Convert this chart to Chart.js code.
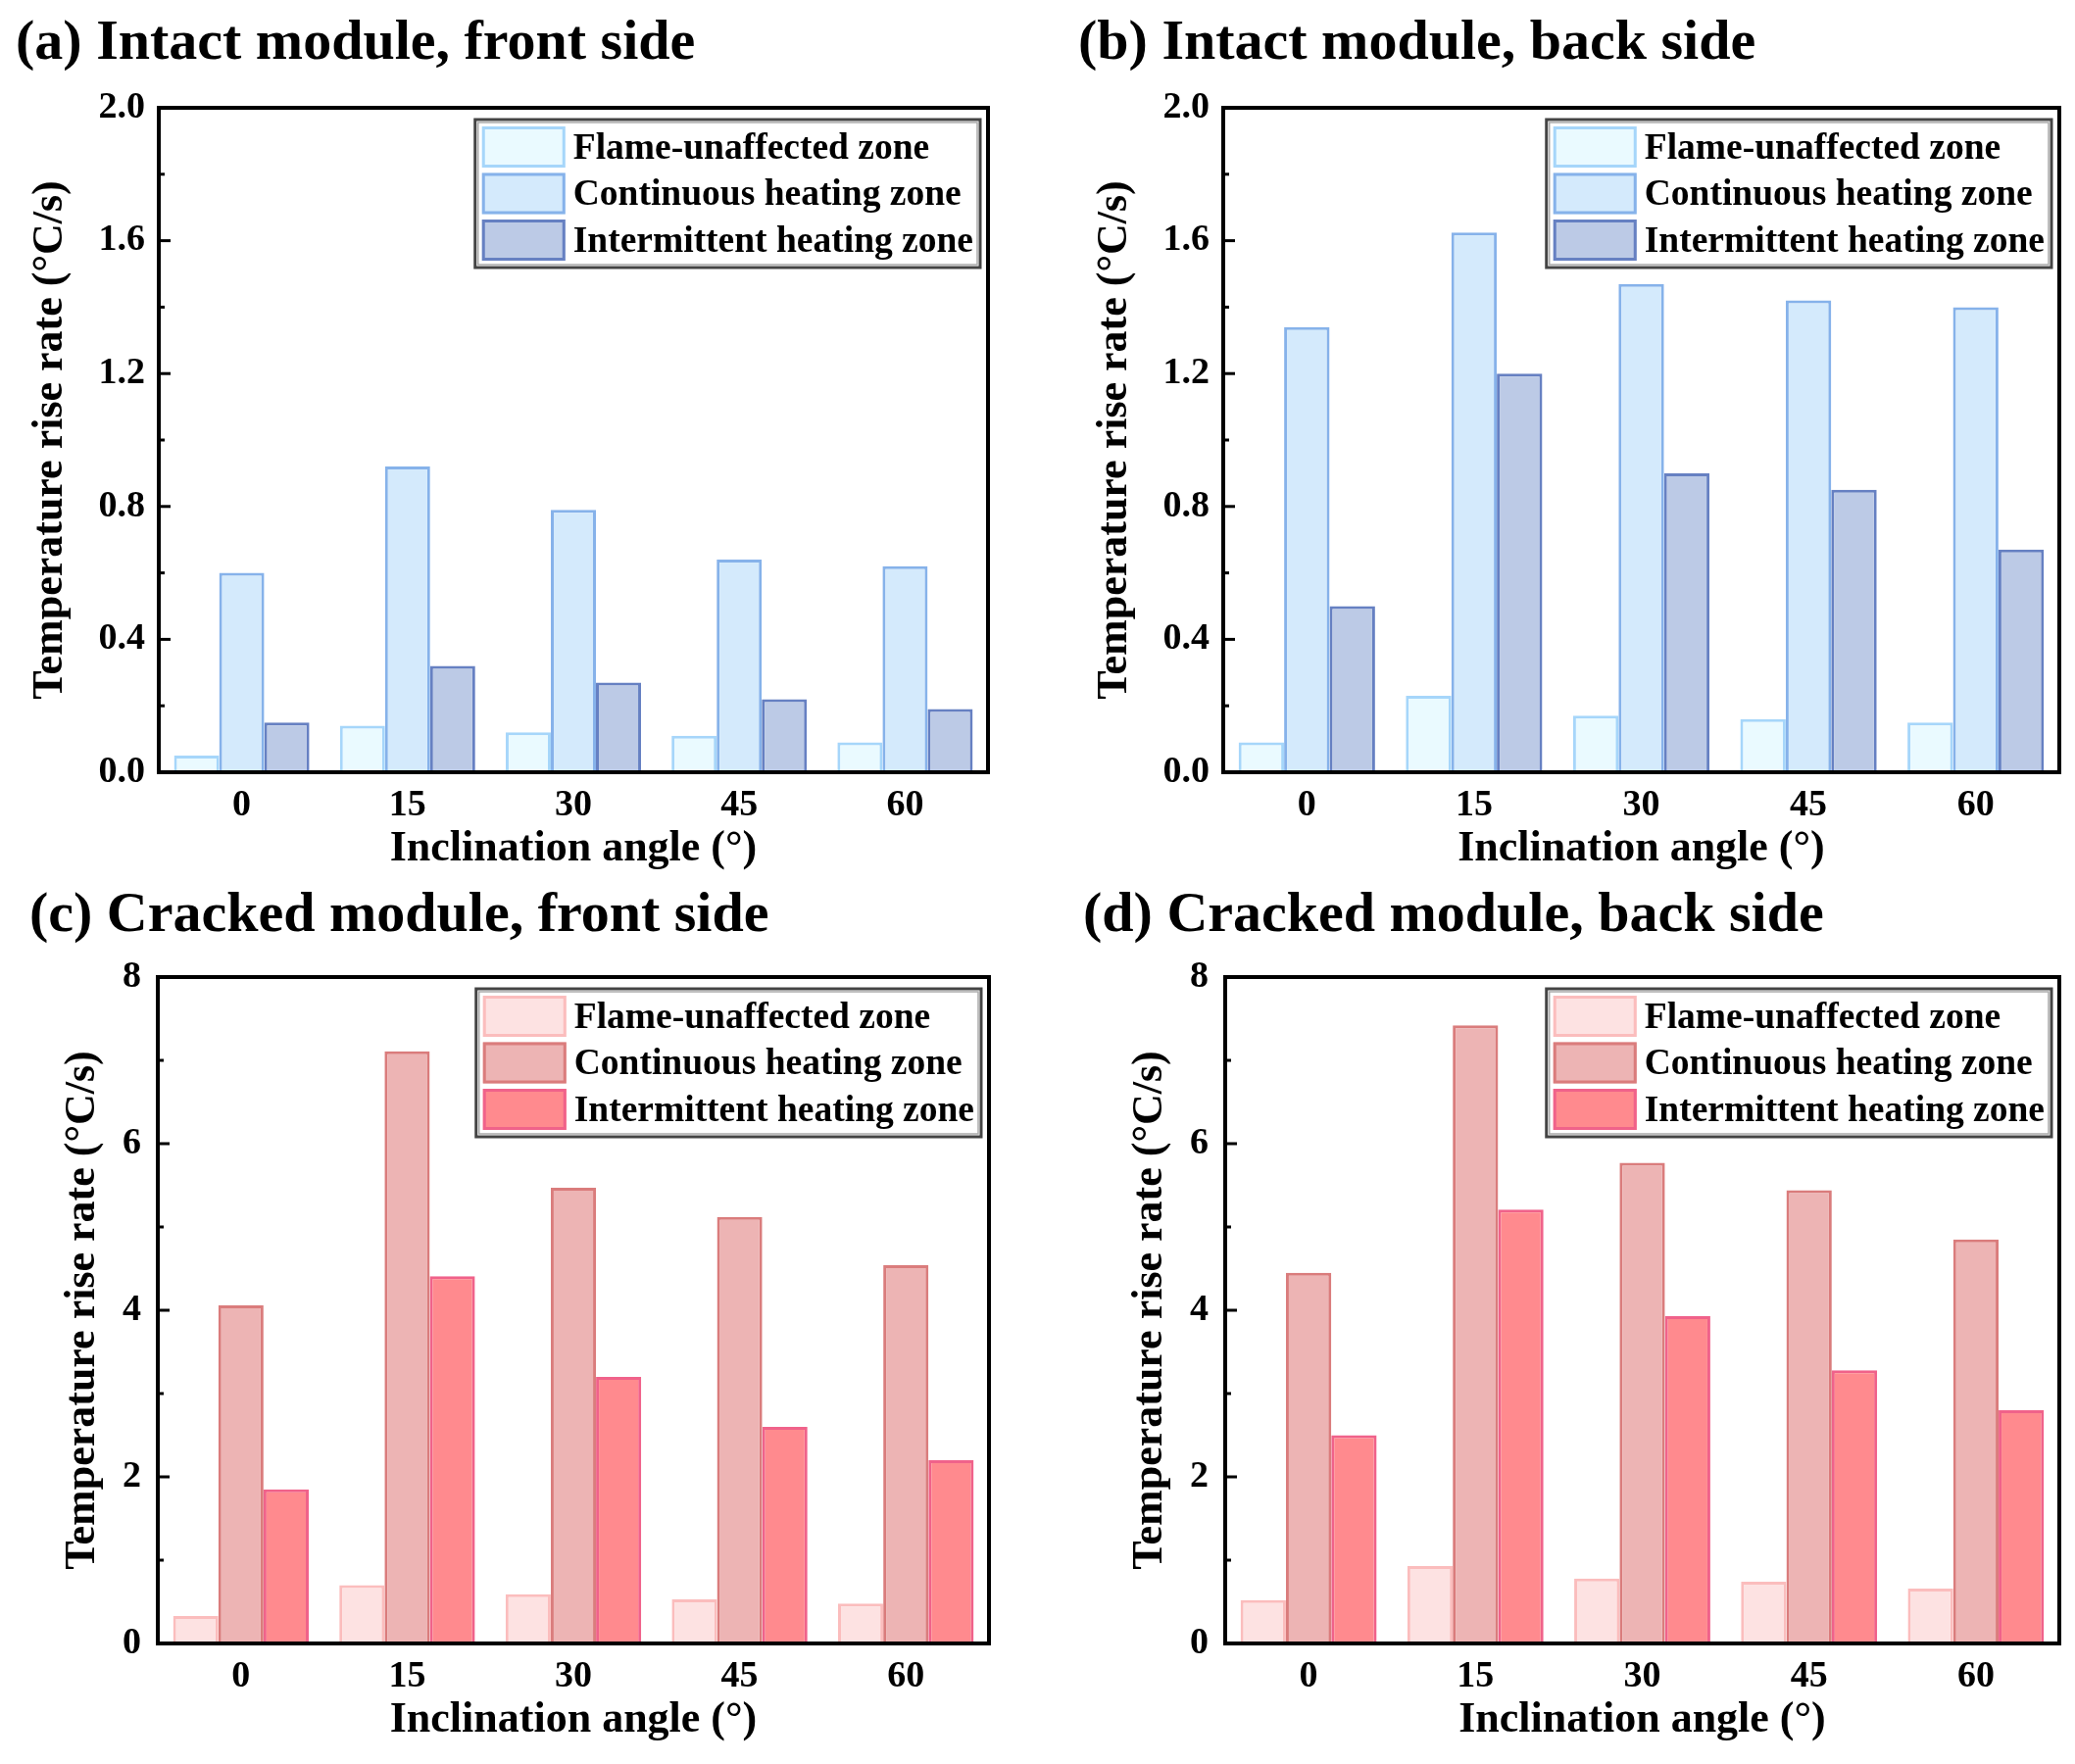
<!DOCTYPE html>
<html>
<head>
<meta charset="utf-8">
<script src="https://cdn.jsdelivr.net/npm/chart.js@4.4.1/dist/chart.umd.min.js"></script>
<style>
  body { margin: 0; background: #fff; width: 2117px; height: 1800px; position: relative; overflow: hidden; }
  canvas { position: absolute; }
  .ttl { position: absolute; font: bold 58px "Liberation Serif", "Times New Roman", serif; line-height: 58px; color: #000; white-space: nowrap; }
</style>
</head>
<body>
<div class="ttl" style="left:16px;top:12px">(a) Intact module, front side</div>
<div class="ttl" style="left:1100px;top:12px">(b) Intact module, back side</div>
<div class="ttl" style="left:30px;top:902px">(c) Cracked module, front side</div>
<div class="ttl" style="left:1105px;top:902px">(d) Cracked module, back side</div>
<canvas id="pa"></canvas>
<canvas id="pb"></canvas>
<canvas id="pc"></canvas>
<canvas id="pd"></canvas>
<script>
var angles = ["0", "15", "30", "45", "60"];
var zones = ["Flame-unaffected zone", "Continuous heating zone", "Intermittent heating zone"];

// intact module (°C/s)
var intactFrontFlame = [0.05, 0.14, 0.12, 0.11, 0.09];
var intactFrontCont  = [0.60, 0.92, 0.79, 0.64, 0.62];
var intactFrontInter = [0.15, 0.32, 0.27, 0.22, 0.19];
var intactBackFlame  = [0.09, 0.23, 0.17, 0.16, 0.15];
var intactBackCont   = [1.34, 1.625, 1.47, 1.42, 1.40];
var intactBackInter  = [0.50, 1.20, 0.90, 0.85, 0.67];

// cracked module (°C/s)
var crackFrontFlame = [0.33, 0.70, 0.59, 0.53, 0.48];
var crackFrontCont  = [4.06, 7.11, 5.47, 5.12, 4.54];
var crackFrontInter = [1.85, 4.41, 3.20, 2.60, 2.20];
var crackBackFlame  = [0.52, 0.93, 0.78, 0.74, 0.66];
var crackBackCont   = [4.45, 7.42, 5.77, 5.44, 4.85];
var crackBackInter  = [2.50, 5.21, 3.93, 3.28, 2.80];

var blueFill   = ["#EAFAFF", "#D4EAFC", "#BCCAE6"];
var blueBorder = ["#A6D6FA", "#86B2EA", "#6680C2"];
var redFill    = ["#FDE2E2", "#EDB4B4", "#FF8A8E"];
var redBorder  = ["#FBBDBD", "#DA7C7C", "#F0628A"];

var FONT = '"Liberation Serif", "Times New Roman", serif';

// frame, inward ticks and boxed legend
var framePlugin = {
  id: "frame",
  afterDraw: function(chart) {
    var ctx = chart.ctx, a = chart.chartArea, y = chart.scales.y;
    ctx.save();
    ctx.strokeStyle = "#000";
    ctx.lineWidth = 4;
    ctx.strokeRect(a.left, a.top, a.right - a.left, a.bottom - a.top);
    ctx.lineWidth = 3;
    var t = y.ticks;
    for (var i = 0; i < t.length; i++) {
      var py = y.getPixelForValue(t[i].value);
      ctx.beginPath(); ctx.moveTo(a.left, py); ctx.lineTo(a.left + 12, py); ctx.stroke();
      if (i < t.length - 1) {
        var my = y.getPixelForValue((t[i].value + t[i + 1].value) / 2);
        ctx.beginPath(); ctx.moveTo(a.left, my); ctx.lineTo(a.left + 6, my); ctx.stroke();
      }
    }
    // legend
    var ds = chart.data.datasets;
    ctx.font = "bold 37.5px " + FONT;
    var tw = 0;
    ds.forEach(function(d) { tw = Math.max(tw, ctx.measureText(d.label).width); });
    var sw = 85, sh = 42, pitch = 47.5, pad = 7, gap = 8;
    var bw = pad + sw + gap + tw + pad;
    var bh = pad + pitch * ds.length - (pitch - sh) + pad;
    var bx = a.right - 8 - bw, by = a.top + 12;
    ctx.fillStyle = "#fff";
    ctx.fillRect(bx, by, bw, bh);
    ctx.strokeStyle = "#444";
    ctx.lineWidth = 3;
    ctx.strokeRect(bx, by, bw, bh);
    ctx.strokeStyle = "#aaa";
    ctx.lineWidth = 1.5;
    ctx.strokeRect(bx + 3, by + 3, bw - 6, bh - 6);
    ds.forEach(function(d, k) {
      var sy = by + pad + k * pitch;
      ctx.fillStyle = d.backgroundColor;
      ctx.fillRect(bx + pad, sy, sw, sh);
      ctx.strokeStyle = d.borderColor;
      ctx.lineWidth = 3;
      ctx.strokeRect(bx + pad + 1.5, sy + 1.5, sw - 3, sh - 3);
      ctx.fillStyle = "#000";
      ctx.textBaseline = "middle";
      ctx.textAlign = "left";
      ctx.fillText(d.label, bx + pad + sw + gap, sy + sh / 2 + 2);
    });
    ctx.restore();
  }
};

function makePanel(id, L, T, R, B, series, fills, borders, ymax, step, decimals, ytitlePad, ytickPad) {
  var cv = document.getElementById(id);
  var w = (R - L) + 162 + 16, h = (B - T) + 50 + 122;
  cv.style.left = (L - 162) + "px";
  cv.style.top = (T - 50) + "px";
  cv.style.width = w + "px";
  cv.style.height = h + "px";
  cv.width = w; cv.height = h;
  new Chart(cv, {
    type: "bar",
    data: {
      labels: angles,
      datasets: series.map(function(s, i) {
        return {
          label: zones[i],
          data: s,
          backgroundColor: fills[i],
          borderColor: borders[i],
          borderWidth: 3,
          categoryPercentage: 0.816,
          barPercentage: 1.0
        };
      })
    },
    options: {
      responsive: false,
      animation: false,
      devicePixelRatio: 1,
      layout: { padding: { top: 50, right: 16, left: 0, bottom: 0 } },
      plugins: { legend: { display: false }, tooltip: { enabled: false } },
      scales: {
        x: {
          grid: { display: false, drawTicks: false },
          border: { display: false },
          ticks: { color: "#000", padding: 11, font: { family: FONT, size: 38, weight: "bold" } },
          title: { display: true, text: "Inclination angle (°)", color: "#000",
                   padding: { top: 0, bottom: 17 }, font: { family: FONT, size: 44, weight: "bold" } },
          afterFit: function(s) { s.height = 122; }
        },
        y: {
          min: 0, max: ymax,
          grid: { display: false, drawTicks: false },
          border: { display: false },
          ticks: { stepSize: step, color: "#000", padding: ytickPad,
                   font: { family: FONT, size: 38, weight: "bold" },
                   callback: function(v) { return v.toFixed(decimals); } },
          title: { display: true, text: "Temperature rise rate (°C/s)", color: "#000",
                   padding: { top: ytitlePad, bottom: 0 }, font: { family: FONT, size: 44, weight: "bold" } },
          afterFit: function(s) { s.width = 162; }
        }
      }
    },
    plugins: [framePlugin]
  });
}

makePanel("pa", 162, 110, 1008, 788, [intactFrontFlame, intactFrontCont, intactFrontInter], blueFill, blueBorder, 2.0, 0.4, 1, 25, 14);
makePanel("pb", 1248, 110, 2101, 788, [intactBackFlame, intactBackCont, intactBackInter], blueFill, blueBorder, 2.0, 0.4, 1, 25, 14);
makePanel("pc", 161, 997, 1009, 1677, [crackFrontFlame, crackFrontCont, crackFrontInter], redFill, redBorder, 8, 2, 0, 59, 17);
makePanel("pd", 1250, 997, 2101, 1677, [crackBackFlame, crackBackCont, crackBackInter], redFill, redBorder, 8, 2, 0, 59, 17);
</script>
</body>
</html>
